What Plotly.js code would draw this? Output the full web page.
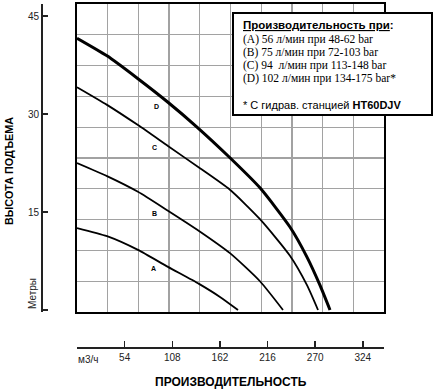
<!DOCTYPE html>
<html>
<head>
<meta charset="utf-8">
<script src="https://cdn.plot.ly/plotly-3.0.1.min.js"></script>
<style>html,body{margin:0;padding:0;background:#fff;}#chart{width:435px;height:389px;}</style>
</head>
<body>
<div id="chart"></div>
<script>
// Flow (m3/h) and head (m)
const qA = [0, 34.0, 69.1, 103.1, 138.3, 162.1, 182.5];
const hA = [12.55, 11.3, 9.2, 6.6, 4.0, 2.0, 0];
const qB = [0, 34.0, 69.1, 103.1, 138.3, 173.4, 207.4, 233.5];
const hB = [22.5, 20.5, 18.1, 15.2, 12.1, 8.7, 4.4, 0];
const qC = [0, 34.0, 69.1, 103.1, 139.4, 173.4, 207.4, 241.4, 260.7, 273.2];
const hC = [34.1, 31.4, 28.3, 25.1, 21.7, 18.4, 13.9, 8.3, 3.8, 0];
const qD = [0, 34.0, 69.1, 103.1, 136.0, 173.4, 207.4, 241.4, 260.7, 275.4, 286.8];
const hD = [41.6, 38.9, 35.4, 31.8, 28.0, 23.3, 18.7, 12.7, 8.1, 3.8, 0];

const xTickVals = [0, 54, 108, 162, 216, 270, 324];
const xTickText = ['', '54', '108', '162', '216', '270', '324'];
const xUnit = 'м3/ч';
const yTickVals = [0, 15, 30, 45];
const yTickText = ['', '15', '30', '45'];
const yUnit = 'Метры';

const curveNames = ['A', 'B', 'C', 'D'];
const legendTitle = 'Производительность при';
const legendLines = [
  '(A) 56 л/мин при 48-62 bar',
  '(B) 75 л/мин при 72-103 bar',
  '(C) 94  л/мин при 113-148 bar',
  '(D) 102 л/мин при 134-175 bar*'
];
const footnote = '* С гидрав. станцией ';
const footnoteBold = 'HT60DJV';

const W = 435, H = 389;
const px = v => v / W;
const py = v => 1 - v / H;
const SANS = "'Liberation Sans', Arial, sans-serif";
const SERIF = "'Liberation Serif', 'Times New Roman', serif";

const series = [[qA, hA, 1.8], [qB, hB, 1.8], [qC, hC, 1.8], [qD, hD, 3]];
const traces = [{x: [], y: [], xaxis: 'x', yaxis: 'y', showlegend: false, hoverinfo: 'skip'}];
series.forEach((s, i) => traces.push({
  x: s[0], y: s[1], xaxis: 'x2', yaxis: 'y2', mode: 'lines', name: curveNames[i],
  line: {color: '#000', width: s[2], shape: 'spline', smoothing: 0.6},
  showlegend: false, hoverinfo: 'skip'
}));

const labelPos = [[86.2, 6.4], [88.4, 14.8], [88.4, 24.8], [89.6, 31.2]];
const annotations = [];
const txt = (x, y, text, font, extra) => Object.assign({
  xref: 'paper', yref: 'paper', x: px(x), y: py(y), text: text, showarrow: false,
  xanchor: 'center', yanchor: 'middle', font: font
}, extra || {});
curveNames.forEach((n, i) => annotations.push({
  xref: 'x2', yref: 'y2', x: labelPos[i][0], y: labelPos[i][1], text: '<b>' + n + '</b>',
  showarrow: false, xanchor: 'center', yanchor: 'middle', font: {family: SANS, size: 7, color: '#000'}
}));
annotations.push(
  txt(231, 382, '<b>ПРОИЗВОДИТЕЛЬНОСТЬ</b>', {family: SANS, size: 12, color: '#000'}),
  txt(9, 171, '<b>ВЫСОТА ПОДЪЕМА</b>', {family: SANS, size: 10.8, color: '#000'}, {textangle: -90}),
  txt(32, 294, yUnit, {family: SANS, size: 10, color: '#222'}, {textangle: -90}),
  txt(76, 359, xUnit, {family: SANS, size: 10, color: '#222'}, {xanchor: 'left'}),
  txt(241, 25, '<b><u>' + legendTitle + '</u>:</b>', {family: SANS, size: 11.5, color: '#000'}, {xanchor: 'left'})
);
const lineY = [39.6, 52.4, 65.2, 78];
legendLines.forEach((t, i) => annotations.push(
  txt(241, lineY[i], t, {family: SERIF, size: 11.5, color: '#000'}, {xanchor: 'left'})
));
annotations.push(txt(241, 104.7, footnote + '<b>' + footnoteBold + '</b>',
  {family: SANS, size: 11, color: '#000'}, {xanchor: 'left'}));

const layout = {
  width: W, height: H, margin: {l: 0, r: 0, t: 0, b: 0},
  paper_bgcolor: '#fff', plot_bgcolor: '#fff', showlegend: false,
  xaxis: {domain: [px(77), px(384)], range: [0, 10], dtick: 1, showgrid: true, gridcolor: '#a2a2a2',
          gridwidth: 1.3, zeroline: false, showticklabels: false, ticks: '', showline: true,
          mirror: true, linecolor: '#000', linewidth: 2.3, fixedrange: true},
  yaxis: {domain: [py(312), py(4)], range: [0, 10], dtick: 1, showgrid: true, gridcolor: '#a2a2a2',
          gridwidth: 1.3, zeroline: false, showticklabels: false, ticks: '', showline: true,
          mirror: true, linecolor: '#000', linewidth: 2.3, fixedrange: true},
  xaxis2: {overlaying: 'x', anchor: 'free', position: py(347), range: [0, 348],
           tickvals: xTickVals, ticktext: xTickText, ticks: 'inside', ticklen: 6, tickwidth: 1.5,
           tickcolor: '#222', showline: true, linecolor: '#222', linewidth: 1.5, showgrid: false,
           zeroline: false, tickfont: {family: SANS, size: 10, color: '#222'}, fixedrange: true},
  yaxis2: {overlaying: 'y', anchor: 'free', position: px(41), side: 'left', range: [-0.306, 46.84],
           tickvals: yTickVals, ticktext: yTickText, ticks: 'inside', ticklen: 5, tickwidth: 1.5,
           tickcolor: '#222', showline: true, linecolor: '#222', linewidth: 1.5, showgrid: false,
           zeroline: false, tickfont: {family: SANS, size: 10, color: '#222'}, fixedrange: true},
  shapes: [{type: 'rect', xref: 'paper', yref: 'paper', x0: px(233), x1: px(432), y0: py(115), y1: py(13),
            line: {color: '#000', width: 2}, fillcolor: '#fff', layer: 'above'}],
  annotations: annotations
};

Plotly.newPlot('chart', traces, layout, {displayModeBar: false, staticPlot: true});
</script>
</body>
</html>
